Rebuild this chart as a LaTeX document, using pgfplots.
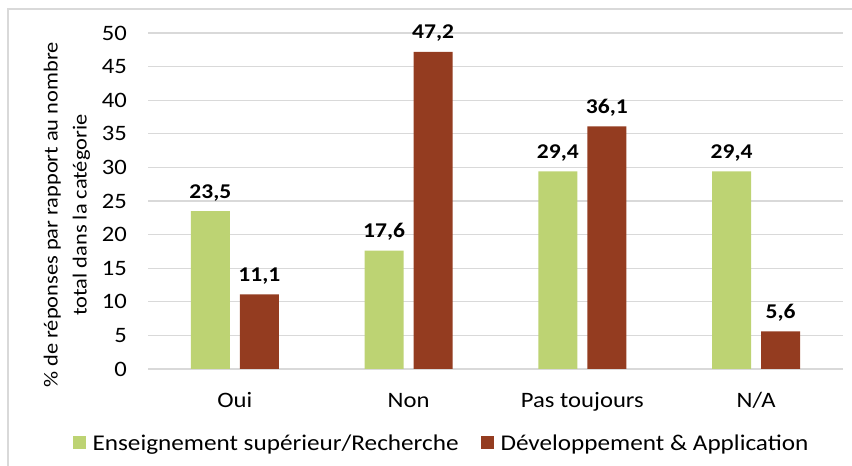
\documentclass[border=0pt]{standalone}
\usepackage{fontspec}
\setmainfont{Carlito}[FakeStretch=1.12]
\usepackage{pgfplots}
\pgfplotsset{compat=1.18}
\definecolor{gridc}{HTML}{D9D9D9}
\definecolor{vert}{HTML}{BDD373}
\definecolor{brun}{HTML}{943C20}
\begin{document}
\begin{tikzpicture}[x=1pt,y=1pt]
\path[use as bounding box] (0,0) rectangle (852,466);
\draw[gridc, line width=1.3pt] (8,0) -- (8,457) -- (852,457);
\begin{axis}[
  at={(148pt,97pt)}, anchor=south west,
  width=695pt, height=336pt, scale only axis,
  xmin=-0.5, xmax=3.5, ymin=0, ymax=50,
  ytick={0,5,...,50},
  xtick={0,1,2,3}, xticklabels={Oui,Non,Pas toujours,N/A},
  axis line style={draw=none},
  major tick length=0pt,
  ymajorgrids, grid style={gridc, line width=1.2pt},
  /pgf/number format/assume math mode=true,
  yticklabel style={font=\fontsize{22}{26}\selectfont, inner sep=0pt, anchor=east, xshift=-21pt},
  xticklabel style={font=\fontsize{22}{26}\selectfont, inner sep=0pt, anchor=base, yshift=-38pt},
  ybar=10pt, bar width=39pt,
  nodes near coords={\pgfmathprintnumber[fixed,fixed zerofill,precision=1,use comma]{\pgfplotspointmeta}},
  every node near coord/.append style={font=\bfseries\fontsize{21}{25}\selectfont, anchor=base, inner sep=0pt, yshift=13pt, text=black},
  legend columns=2,
  legend style={draw=none, fill=none, at={(0.4223,-0.2202)}, anchor=center,
    font=\fontsize{22.5}{26}\selectfont,
    /tikz/every odd column/.append style={column sep=5pt},
    /tikz/every even column/.append style={column sep=20pt}},
  legend cell align=left,
  legend image code/.code={\fill[#1] (0pt,-6.5pt) rectangle (13pt,6.5pt);},
]
\addplot[draw=none, fill=vert] coordinates {(0,23.5) (1,17.6) (2,29.4) (3,29.4)};
\addplot[draw=none, fill=brun] coordinates {(0,11.1) (1,47.2) (2,36.1) (3,5.6)};
\legend{Enseignement supérieur/Recherche, Développement \& Application}
\end{axis}
\node[rotate=90, align=center, font=\fontsize{20}{29}\selectfont] at (67,251) {\% de réponses par rapport au nombre\\total dans la catégorie};
\end{tikzpicture}
\end{document}
